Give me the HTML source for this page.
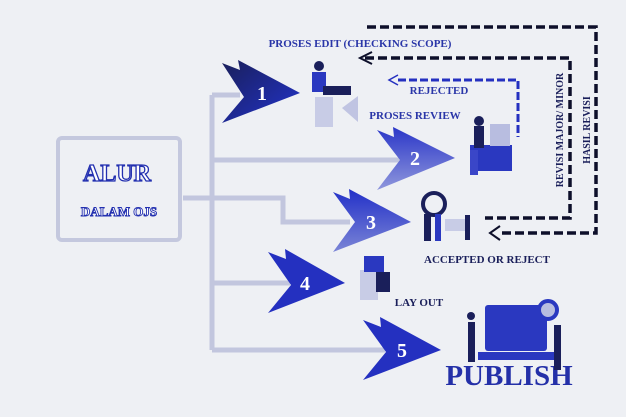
<!DOCTYPE html>
<html><head><style>
html,body{margin:0;padding:0;background:#eef0f4;}
svg{display:block;}
text{font-family:"Liberation Serif",serif;font-weight:bold;}
</style></head><body>
<svg width="626" height="417" viewBox="0 0 626 417">
<defs>
<linearGradient id="g1" x1="0" y1="0" x2="1" y2="1"><stop offset="0" stop-color="#1a1f5a"/><stop offset="1" stop-color="#2233cc"/></linearGradient>
<linearGradient id="g2" x1="0" y1="0" x2="0" y2="1"><stop offset="0" stop-color="#2a36c8"/><stop offset="1" stop-color="#8f97dc"/></linearGradient>
<linearGradient id="g3" x1="0" y1="0" x2="0" y2="1"><stop offset="0" stop-color="#2230c8"/><stop offset="1" stop-color="#7b85d6"/></linearGradient>
</defs>
<rect width="626" height="417" fill="#eef0f4"/>
<!-- box -->
<rect x="58" y="138" width="122" height="102" rx="4" fill="none" stroke="#c4c8de" stroke-width="4"/>
<text x="117" y="181" font-size="24" text-anchor="middle" fill="#fff" stroke="#2330b0" stroke-width="1.3">ALUR</text>
<text x="119" y="216" font-size="13" text-anchor="middle" fill="#fff" stroke="#2330b0" stroke-width="0.9">DALAM OJS</text>
<!-- connectors -->
<g stroke="#c2c6de" stroke-width="5" fill="none">
<path d="M183 198 H212"/>
<path d="M212 95 V350"/>
<path d="M212 95 H240"/>
<path d="M212 160 H400"/>
<path d="M212 198 H283 V222 H350"/>
<path d="M212 283 H290"/>
<path d="M212 350 H385"/>
</g>
<!-- arrows -->
<polygon points="222,63 240,70 238,60 300,93 222,123 244,97" fill="url(#g1)"/>
<polygon points="377,130 394,137 393,127 455,158 377,190 400,160" fill="url(#g2)"/>
<polygon points="333,192 350,199 349,189 411,222 333,252 355,222" fill="url(#g3)"/>
<polygon points="268,252 286,259 285,249 345,283 268,313 291,285" fill="#2430c0"/>
<polygon points="363,320 381,327 380,317 441,350 363,380 386,352" fill="#2430c0"/>
<g fill="#fff" font-size="20" text-anchor="middle">
<text x="262" y="100">1</text><text x="415" y="165">2</text><text x="371" y="229">3</text><text x="305" y="290">4</text><text x="402" y="357">5</text>
</g>
<!-- dashed lines -->
<g fill="none" stroke="#0d0f2a" stroke-width="3.5" stroke-dasharray="9,4">
<path d="M367 27 H596 V233 H500"/>
<path d="M365 58 H570 V218 H485"/>
</g>
<g fill="none" stroke="#0d0f2a" stroke-width="2">
<path d="M372 52 L360 58 L372 64"/>
<path d="M500 226 L490 233 L500 240"/>
</g>
<path d="M398 80 H518 V137" fill="none" stroke="#2430c0" stroke-width="3" stroke-dasharray="8,3"/>
<path d="M398 75 L389 80 L398 85" fill="none" stroke="#2430c0" stroke-width="1.5"/>
<!-- labels -->
<g fill="#2a36a8" font-size="11">
<text x="360" y="47" text-anchor="middle">PROSES EDIT (CHECKING SCOPE)</text>
<text x="439" y="94" text-anchor="middle">REJECTED</text>
<text x="415" y="119" text-anchor="middle">PROSES REVIEW</text>
</g>
<text x="487" y="263" font-size="11" text-anchor="middle" fill="#1a1f5a">ACCEPTED OR REJECT</text>
<text x="419" y="306" font-size="11" text-anchor="middle" fill="#1a1f5a">LAY OUT</text>
<text x="509" y="385" font-size="29" text-anchor="middle" fill="#2430a8">PUBLISH</text>
<text transform="translate(563,130) rotate(-90)" font-size="10" text-anchor="middle" fill="#1a1f5a">REVISI MAJOR/ MINOR</text>
<text transform="translate(590,130) rotate(-90)" font-size="10" text-anchor="middle" fill="#1a1f5a">HASIL REVISI</text>
<!-- illustrations -->
<g>
<rect x="315" y="97" width="18" height="30" fill="#c8cce6"/>
<rect x="312" y="72" width="14" height="20" fill="#2a38c0"/>
<circle cx="319" cy="66" r="5" fill="#1a1f5a"/>
<rect x="323" y="86" width="28" height="9" fill="#1a1f5a"/>
<polygon points="342,108 358,96 358,122" fill="#c0c4e2"/>
<rect x="470" y="145" width="42" height="26" fill="#2a38c0"/>
<rect x="470" y="150" width="8" height="25" fill="#3a46c8"/>
<rect x="474" y="126" width="10" height="22" fill="#1a1f5a"/>
<circle cx="479" cy="121" r="5" fill="#1a1f5a"/>
<rect x="490" y="124" width="20" height="22" fill="#b8bde0"/>
<circle cx="434" cy="204" r="11" fill="none" stroke="#1a1f5a" stroke-width="4"/>
<rect x="424" y="214" width="7" height="27" fill="#1a1f5a"/>
<rect x="435" y="214" width="6" height="27" fill="#2a38c0"/>
<rect x="445" y="219" width="20" height="12" fill="#c8cce6"/>
<rect x="465" y="215" width="5" height="25" fill="#1a1f5a"/>
<rect x="360" y="270" width="18" height="30" fill="#c8cce6"/>
<rect x="364" y="256" width="20" height="16" fill="#2a38c0"/>
<rect x="376" y="272" width="14" height="20" fill="#1a1f5a"/>
<rect x="468" y="322" width="7" height="40" fill="#1a1f5a"/>
<circle cx="471" cy="316" r="4" fill="#1a1f5a"/>
<rect x="485" y="305" width="62" height="46" rx="3" fill="#2a38c0"/>
<rect x="478" y="352" width="78" height="8" fill="#2a38c0"/>
<circle cx="548" cy="310" r="9" fill="#b8bde0" stroke="#2a38c0" stroke-width="4"/>
<rect x="554" y="325" width="7" height="45" fill="#1a1f5a"/>
</g>
</svg>
</body></html>
